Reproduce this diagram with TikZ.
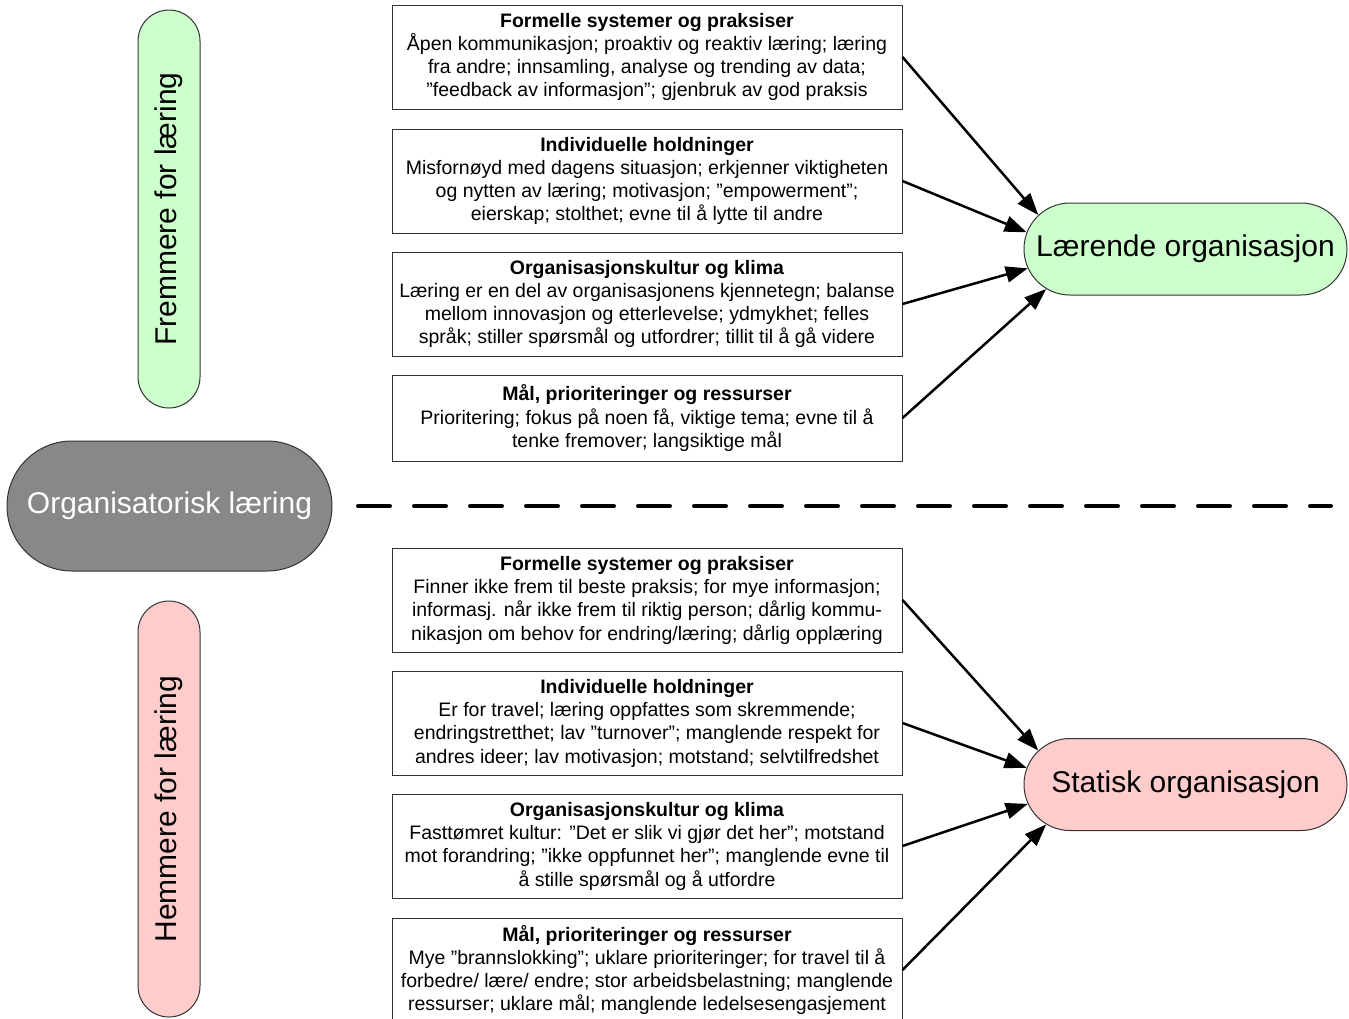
\documentclass[tikz,border=0pt]{standalone}
\usepackage{fontspec}
\setmainfont{Liberation Sans}
\usetikzlibrary{shapes.misc,arrows.meta}
\definecolor{lgreen}{HTML}{CCFFCC}
\definecolor{lred}{HTML}{FFCCCC}
\definecolor{dgrey}{HTML}{888888}
\begin{document}
\begin{tikzpicture}[x=1pt,y=-1pt,
  box/.style={draw=black!80, line width=1pt, fill=white, minimum width=510pt, minimum height=104pt, inner sep=0pt, align=center, font=\fontsize{19.5}{23.3}\selectfont},
  pill/.style={rounded rectangle, draw=black!80, line width=1pt, inner sep=0pt, font=\fontsize{30}{36}\selectfont},
  conn/.style={line width=2.5pt, -{Triangle[length=22pt,width=16pt]}},
  sepline/.style={line width=4pt, dash pattern=on 32pt off 24pt, line cap=round}]
\useasboundingbox (0,0) rectangle (1349,1018);

% left pills
\node[pill, fill=lgreen, rotate=90, minimum width=398pt, minimum height=62pt] (fl) at (169,209) {Fremmere for læring};
\node[pill, fill=lred, rotate=90, minimum width=416pt, minimum height=62pt] (hl) at (169,809) {Hemmere for læring};
\node[pill, fill=dgrey, text=white, minimum width=325pt, minimum height=130pt] (ol) at (169.5,506) {Organisatorisk læring};

% right pills
\node[pill, fill=lgreen, minimum width=323pt, minimum height=92pt] (lo) at (1185.5,249) {Lærende organisasjon};
\node[pill, fill=lred, minimum width=323pt, minimum height=92pt] (so) at (1185.5,784.5) {Statisk organisasjon};

% upper boxes
\node[box] (f1) at (647,57) {\textbf{Formelle systemer og praksiser}\\Åpen kommunikasjon; proaktiv og reaktiv læring; læring\\fra andre; innsamling, analyse og trending av data;\\”feedback av informasjon”; gjenbruk av god praksis};
\node[box] (f2) at (647,181) {\textbf{Individuelle holdninger}\\Misfornøyd med dagens situasjon; erkjenner viktigheten\\og nytten av læring; motivasjon; ”empowerment”;\\eierskap; stolthet; evne til å lytte til andre};
\node[box] (f3) at (647,304) {\textbf{Organisasjonskultur og klima}\\Læring er en del av organisasjonens kjennetegn; balanse\\mellom innovasjon og etterlevelse; ydmykhet; felles\\språk; stiller spørsmål og utfordrer; tillit til å gå videre};
\node[box, minimum height=86pt] (f4) at (647,418) {\textbf{Mål, prioriteringer og ressurser}\\Prioritering; fokus på noen få, viktige tema; evne til å\\tenke fremover; langsiktige mål};

% lower boxes
\node[box] (h1) at (647,600) {\textbf{Formelle systemer og praksiser}\\Finner ikke frem til beste praksis; for mye informasjon;\\informasj. når ikke frem til riktig person; dårlig kommu-\\nikasjon om behov for endring/læring; dårlig opplæring};
\node[box] (h2) at (647,723) {\textbf{Individuelle holdninger}\\Er for travel; læring oppfattes som skremmende;\\endringstretthet; lav ”turnover”; manglende respekt for\\andres ideer; lav motivasjon; motstand; selvtilfredshet};
\node[box] (h3) at (647,846) {\textbf{Organisasjonskultur og klima}\\Fasttømret kultur: ”Det er slik vi gjør det her”; motstand\\mot forandring; ”ikke oppfunnet her”; manglende evne til\\å stille spørsmål og å utfordre};
\node[box] (h4) at (647,970) {\textbf{Mål, prioriteringer og ressurser}\\Mye ”brannslokking”; uklare prioriteringer; for travel til å\\forbedre/ lære/ endre; stor arbeidsbelastning; manglende\\ressurser; uklare mål; manglende ledelsesengasjement};

% separator
\coordinate (s1) at (358,506);
\coordinate (s2) at (1331,506);
\draw[sepline] (s1) -- (s2);

% connectors
\draw[conn] (f1.east) -- (lo.167);
\draw[conn] (f2.east) -- (lo.174);
\draw[conn] (f3.east) -- (lo.187);
\draw[conn] (f4.east) -- (lo.196);
\draw[conn] (h1.east) -- (so.167);
\draw[conn] (h2.east) -- (so.174);
\draw[conn] (h3.east) -- (so.187);
\draw[conn] (h4.east) -- (so.196);
\end{tikzpicture}
\end{document}
